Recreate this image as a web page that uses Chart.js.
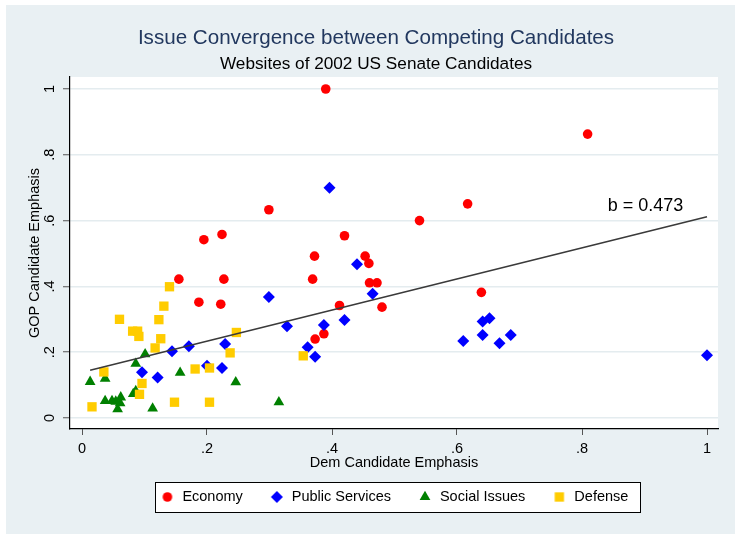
<!DOCTYPE html>
<html>
<head>
<meta charset="utf-8">
<title>Issue Convergence between Competing Candidates</title>
<script src="https://cdn.jsdelivr.net/npm/chart.js@4/dist/chart.umd.min.js"></script>
<style>
  html, body { margin: 0; padding: 0; background: #ffffff; }
  #wrap { width: 735px; height: 534px; }
  canvas { display: block; }
</style>
</head>
<body>
<div id="wrap"><canvas id="chart" width="735" height="534"></canvas></div>
<script>
// Issue categories (one scatter series each)
const categories = ['Economy', 'Public Services', 'Social Issues', 'Defense'];

// Emphasis shares: Dem candidate (x) and GOP candidate (y), per race
const economyDem = [0.390, 0.809, 0.299, 0.617, 0.540, 0.195, 0.224, 0.420, 0.372, 0.453, 0.459, 0.155,
                    0.227, 0.369, 0.460, 0.472, 0.639, 0.187, 0.222, 0.412, 0.480, 0.387, 0.373];
const economyGop = [1.000, 0.863, 0.633, 0.651, 0.600, 0.542, 0.558, 0.554, 0.492, 0.492, 0.470, 0.422,
                    0.422, 0.422, 0.411, 0.411, 0.382, 0.352, 0.346, 0.342, 0.337, 0.256, 0.240];

const publicDem = [0.396, 0.440, 0.465, 0.299, 0.328, 0.387, 0.420, 0.361, 0.373, 0.641, 0.652, 0.641,
                   0.610, 0.668, 0.686, 1.000, 0.144, 0.171, 0.229, 0.200, 0.224, 0.096, 0.121];
const publicGop = [0.700, 0.467, 0.378, 0.368, 0.279, 0.283, 0.298, 0.215, 0.186, 0.293, 0.303, 0.252,
                   0.234, 0.227, 0.252, 0.191, 0.203, 0.218, 0.225, 0.159, 0.152, 0.139, 0.123];

const socialDem = [0.101, 0.086, 0.013, 0.037, 0.157, 0.246, 0.086, 0.082, 0.037, 0.048, 0.054, 0.062,
                   0.061, 0.057, 0.113, 0.315];
const socialGop = [0.194, 0.165, 0.110, 0.120, 0.138, 0.109, 0.082, 0.073, 0.052, 0.052, 0.050, 0.063,
                   0.045, 0.027, 0.029, 0.048];

const defenseDem = [0.140, 0.131, 0.060, 0.123, 0.081, 0.089, 0.091, 0.126, 0.117, 0.247, 0.237, 0.181,
                    0.204, 0.035, 0.096, 0.092, 0.016, 0.148, 0.204, 0.354];
const defenseGop = [0.399, 0.340, 0.300, 0.299, 0.264, 0.264, 0.248, 0.241, 0.213, 0.260, 0.198, 0.149,
                    0.152, 0.140, 0.105, 0.072, 0.034, 0.048, 0.048, 0.189];

// Pooled OLS fit of GOP emphasis on Dem emphasis
const fitSlope = 0.473;
const fitIntercept = 0.139;

// Axis ticks (both axes share them)
const axisTicks = [0, 0.2, 0.4, 0.6, 0.8, 1];
const axisTickLabels = ['0', '.2', '.4', '.6', '.8', '1'];

// ---------------------------------------------------------------------------

const FONT = '"Liberation Sans", Arial, Helvetica, sans-serif';
Chart.defaults.font.family = FONT;
Chart.defaults.color = '#000000';

const seriesStyle = [
  { color: '#ff0000', pointStyle: 'circle',   radius: 4.8 },
  { color: '#0000ff', pointStyle: 'rectRot',  radius: 6.0 },
  { color: '#008000', pointStyle: 'triangle', radius: 6.2 },
  { color: '#ffcc00', pointStyle: 'rect',     radius: 6.6 }
];

const seriesX = [economyDem, publicDem, socialDem, defenseDem];
const seriesY = [economyGop, publicGop, socialGop, defenseGop];

function toPoints(xs, ys) {
  return xs.map((x, i) => ({ x: x, y: ys[i] }));
}

// Regression line spans the observed Dem range
const allDem = [].concat(economyDem, publicDem, socialDem, defenseDem);
const fitXs = [Math.min.apply(null, allDem), Math.max.apply(null, allDem)];
const fitPoints = fitXs.map(x => ({ x: x, y: fitIntercept + fitSlope * x }));

// Legend markers rendered with Chart.js' own point painter
function markerCanvas(style) {
  const size = 16;
  const c = document.createElement('canvas');
  c.width = size; c.height = size;
  const g = c.getContext('2d');
  g.fillStyle = style.color;
  g.strokeStyle = style.color;
  Chart.helpers.drawPoint(g, { pointStyle: style.pointStyle, radius: style.radius, rotation: 0, borderWidth: 0 }, size / 2, size / 2);
  return c;
}
const legendMarkers = seriesStyle.map(markerCanvas);

const datasets = categories.map((name, i) => ({
  label: name,
  data: toPoints(seriesX[i], seriesY[i]),
  backgroundColor: seriesStyle[i].color,
  borderColor: seriesStyle[i].color,
  borderWidth: 0,
  pointStyle: seriesStyle[i].pointStyle,
  pointRadius: seriesStyle[i].radius,
  pointHoverRadius: seriesStyle[i].radius,
  order: categories.length - i
}));

datasets.push({
  type: 'line',
  label: 'fit',
  data: fitPoints,
  borderColor: '#3a3a3a',
  borderWidth: 1.6,
  pointRadius: 0,
  fill: false,
  order: 0
});

// Page background, white plot region and framed legend
const frames = {
  id: 'frames',
  beforeDraw(chart) {
    const ctx = chart.ctx;
    const a = chart.chartArea;
    ctx.save();
    ctx.fillStyle = '#e9f0f3';
    ctx.fillRect(6, 5, chart.width - 6, chart.height - 5);
    ctx.fillStyle = '#ffffff';
    ctx.fillRect(a.left, a.top, a.right - a.left, a.bottom - a.top);
    const boxes = chart.legend && chart.legend.legendHitBoxes;
    if (boxes && boxes.length) {
      const first = boxes[0];
      const last = boxes[boxes.length - 1];
      const left = Math.round(first.left - 4.5) + 0.5;
      const right = Math.round(last.left + last.width + 11.5) + 0.5;
      const cy = first.top + first.height / 2;
      const top = Math.round(cy - 15) + 0.5;
      const bottom = Math.round(cy + 15.3) + 0.5;
      ctx.fillStyle = '#ffffff';
      ctx.fillRect(left, top, right - left, bottom - top);
      ctx.strokeStyle = '#000000';
      ctx.lineWidth = 1;
      ctx.strokeRect(left, top, right - left, bottom - top);
    }
    ctx.restore();
  }
};

// Slope annotation next to the fitted line
const slopeNote = {
  id: 'slopeNote',
  afterDatasetsDraw(chart, args, opts) {
    const ctx = chart.ctx;
    const x = chart.scales.x.getPixelForValue(opts.x);
    const y = chart.scales.y.getPixelForValue(opts.y);
    ctx.save();
    ctx.font = '18px ' + FONT;
    ctx.fillStyle = '#000000';
    ctx.textAlign = 'right';
    ctx.textBaseline = 'alphabetic';
    ctx.fillText('b = ' + fitSlope.toFixed(3), x, y);
    ctx.restore();
  }
};

const tickFont = { size: 14.5 };

new Chart(document.getElementById('chart'), {
  type: 'scatter',
  data: { datasets: datasets },
  plugins: [frames, slopeNote],
  options: {
    responsive: false,
    animation: false,
    devicePixelRatio: 1,
    events: [],
    layout: { padding: { left: 34, right: 17, top: 0, bottom: 19.75 } },
    scales: {
      x: {
        type: 'linear',
        min: -0.0192,
        max: 1.0176,
        afterBuildTicks(scale) { scale.ticks = axisTicks.map(v => ({ value: v })); },
        afterFit(scale) { scale.height = 34.5; },
        ticks: {
          autoSkip: false,
          maxRotation: 0,
          minRotation: 0,
          padding: 5.3,
          font: tickFont,
          color: '#000000',
          callback: (value, index) => axisTickLabels[index]
        },
        grid: {
          display: true,
          drawOnChartArea: false,
          drawTicks: true,
          tickLength: 6,
          tickColor: '#555555',
          tickWidth: 1
        },
        border: { display: true, color: '#000000', width: 1.2 },
        title: {
          display: true,
          text: 'Dem Candidate Emphasis',
          font: { size: 14.5 },
          color: '#000000',
          padding: { top: 0, bottom: -7.7 }
        }
      },
      y: {
        type: 'linear',
        min: -0.0334,
        max: 1.0365,
        afterBuildTicks(scale) { scale.ticks = axisTicks.map(v => ({ value: v })); },
        afterFit(scale) { scale.width = 36; },
        ticks: {
          autoSkip: false,
          minRotation: 90,
          maxRotation: 90,
          crossAlign: 'center',
          padding: 6.9,
          font: tickFont,
          color: '#000000',
          callback: (value, index) => axisTickLabels[index]
        },
        grid: {
          display: true,
          drawOnChartArea: true,
          drawTicks: true,
          color: '#e4ecef',
          lineWidth: 1.5,
          tickLength: 7,
          tickColor: '#555555',
          tickWidth: 1
        },
        border: { display: true, color: '#000000', width: 1.2 },
        title: {
          display: true,
          text: 'GOP Candidate Emphasis',
          font: { size: 14.5 },
          color: '#000000',
          padding: { top: -7.7, bottom: 0 }
        }
      }
    },
    plugins: {
      title: {
        display: true,
        text: 'Issue Convergence between Competing Candidates',
        color: '#22385f',
        font: { size: 20.6, weight: 'normal' },
        padding: { top: 25.64, bottom: 0 }
      },
      subtitle: {
        display: true,
        text: 'Websites of 2002 US Senate Candidates',
        color: '#000000',
        font: { size: 17.2, weight: 'normal' },
        padding: { top: 3.82, bottom: 2.18 }
      },
      legend: {
        display: true,
        position: 'bottom',
        fullSize: false,
        align: 'center',
        labels: {
          usePointStyle: true,
          pointStyleWidth: 15.5,
          padding: 26.25,
          color: '#000000',
          font: { size: 14.5 },
          generateLabels(chart) {
            return chart.data.datasets
              .map((ds, i) => ({
                text: ds.label,
                fillStyle: ds.backgroundColor,
                strokeStyle: ds.backgroundColor,
                lineWidth: 0,
                pointStyle: legendMarkers[i],
                fontColor: '#000000',
                hidden: false,
                datasetIndex: i
              }))
              .filter(item => item.pointStyle);
          }
        }
      },
      tooltip: { enabled: false },
      slopeNote: { x: 0.962, y: 0.629 }
    }
  }
});
</script>
</body>
</html>
